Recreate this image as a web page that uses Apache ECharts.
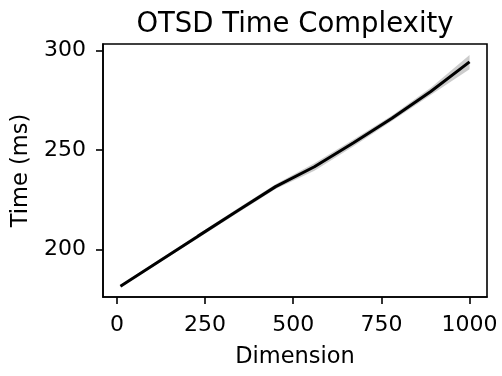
<!DOCTYPE html>
<html>
<head>
<meta charset="utf-8">
<script src="https://cdn.jsdelivr.net/npm/echarts@6/dist/echarts.min.js"></script>
<style>
  html, body { margin: 0; padding: 0; background: #fff; }
  #chart { width: 502px; height: 376px; }
</style>
</head>
<body>
<div id="chart"></div>
<script>
// Input dimensions and measured run time (ms), with the spread band
const dims     = [10, 120, 230, 340, 450, 560, 670, 780, 890, 1000];
const timeMean = [181.5, 194.1, 206.7, 219.2, 231.6, 241.6, 253.5, 266.0, 279.4, 294.3];
const timeLow  = [181.0, 193.3, 205.7, 218.1, 230.4, 239.6, 251.8, 264.6, 277.7, 290.6];
const timeHigh = [182.0, 194.9, 207.7, 220.4, 232.8, 243.4, 255.2, 267.4, 281.3, 297.8];
const xTicks = [0, 250, 500, 750, 1000];
const yTicks = [200, 250, 300];

const FONT = 'DejaVu Sans';
const meanPts = dims.map((d, i) => [d, timeMean[i]]);

// Shaded band: one polygon running along the upper edge and back along the lower edge
function renderBand(params, api) {
  const upper = dims.map((d, i) => api.coord([d, timeHigh[i]]));
  const lower = dims.map((d, i) => api.coord([d, timeLow[i]])).reverse();
  return {
    type: 'polygon',
    shape: { points: upper.concat(lower) },
    style: { fill: 'rgba(128,128,128,0.4)', stroke: null }
  };
}

const chart = echarts.init(document.getElementById('chart'), null, { renderer: 'canvas' });
chart.setOption({
  animation: false,
  backgroundColor: '#fff',
  title: {
    text: 'OTSD Time Complexity',
    left: 290, top: 6, textAlign: 'center',
    textStyle: { fontFamily: FONT, fontSize: 27.5, fontWeight: 'normal', color: '#000' }
  },
  grid: {
    left: 103, right: 15, top: 44, bottom: 79,
    containLabel: false, outerBoundsMode: 'none',
    show: true, borderColor: '#000', borderWidth: 1.6, backgroundColor: 'transparent'
  },
  xAxis: {
    type: 'value', min: -39.5, max: 1049.5,
    name: 'Dimension', nameLocation: 'middle', nameGap: 49,
    nameTextStyle: { fontFamily: FONT, fontSize: 22.5, color: '#000' },
    splitLine: { show: false },
    axisLine: { show: true, onZero: false, lineStyle: { color: '#000', width: 1.6 } },
    axisTick: { show: true, length: 7, lineStyle: { color: '#000', width: 1.6 }, customValues: xTicks },
    axisLabel: { fontFamily: FONT, fontSize: 22, color: '#000', margin: 17, customValues: xTicks,
                 formatter: v => String(v) }
  },
  yAxis: {
    type: 'value', min: 176.1, max: 303.3,
    name: 'Time (ms)', nameLocation: 'middle', nameGap: 69,
    nameTextStyle: { fontFamily: FONT, fontSize: 22.5, color: '#000' },
    splitLine: { show: false },
    axisLine: { show: true, onZero: false, lineStyle: { color: '#000', width: 1.6 } },
    axisTick: { show: true, length: 7, lineStyle: { color: '#000', width: 1.6 }, customValues: yTicks },
    axisLabel: { fontFamily: FONT, fontSize: 22, color: '#000', margin: 17, customValues: yTicks,
                 formatter: v => String(v) }
  },
  series: [
    {
      type: 'custom', renderItem: renderBand, data: [0], silent: true, z: 1,
      clip: true
    },
    {
      type: 'line', data: meanPts, symbol: 'none', silent: true, z: 2,
      lineStyle: { color: '#000', width: 3 }
    }
  ]
});
</script>
</body>
</html>
